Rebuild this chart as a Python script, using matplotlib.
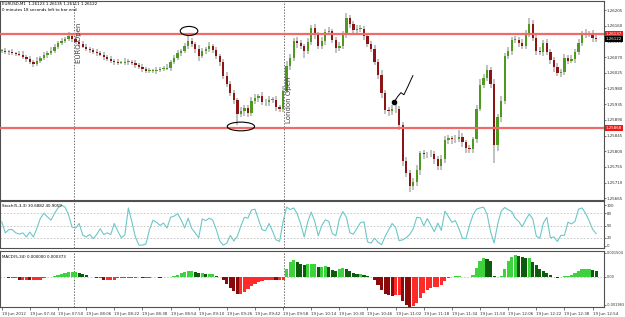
import numpy as np
import matplotlib.pyplot as plt
import matplotlib.transforms as mtransforms
from matplotlib.patches import Ellipse

# EURUSD, 2-minute bars starting 19 Jun 07:18 (minutes since 07:18 on the x axis)
bar_minutes = 2

close = [1.26088, 1.26085, 1.26085, 1.26082, 1.26080, 1.26077, 1.26071, 1.26065, 1.26057, 1.26051,
         1.26060, 1.26068, 1.26077, 1.26082, 1.26088, 1.26100, 1.26111, 1.26117, 1.26122, 1.26131,
         1.26122, 1.26114, 1.26108, 1.26100, 1.26094, 1.26091, 1.26085, 1.26082, 1.26077, 1.26071,
         1.26065, 1.26060, 1.26057, 1.26054, 1.26054, 1.26057, 1.26057, 1.26054, 1.26048, 1.26042,
         1.26037, 1.26031, 1.26031, 1.26031, 1.26034, 1.26037, 1.26037, 1.26040, 1.26057, 1.26068,
         1.26082, 1.26088, 1.26102, 1.26117, 1.26108, 1.26094, 1.26074, 1.26088, 1.26094, 1.26102,
         1.26091, 1.26074, 1.26057, 1.26017, 1.25994, 1.25968, 1.25948, 1.25908, 1.25914, 1.25925,
         1.25911, 1.25945, 1.25954, 1.25957, 1.25942, 1.25940, 1.25948, 1.25948, 1.25928, 1.25922,
         1.25974, 1.26045, 1.26068, 1.26117, 1.26111, 1.26102, 1.26088, 1.26114, 1.26154, 1.26134,
         1.26102, 1.26117, 1.26142, 1.26145, 1.26120, 1.26097, 1.26102, 1.26134, 1.26182, 1.26165,
         1.26148, 1.26151, 1.26151, 1.26131, 1.26108, 1.26094, 1.26057, 1.26020, 1.25968, 1.25917,
         1.25914, 1.25920, 1.25922, 1.25874, 1.25771, 1.25737, 1.25700, 1.25711, 1.25745, 1.25794,
         1.25791, 1.25791, 1.25791, 1.25777, 1.25757, 1.25777, 1.25831, 1.25837, 1.25834, 1.25834,
         1.25842, 1.25825, 1.25808, 1.25805, 1.25834, 1.25922, 1.25991, 1.26011, 1.26034, 1.25994,
         1.25817, 1.25897, 1.25945, 1.26074, 1.26088, 1.26120, 1.26120, 1.26111, 1.26102, 1.26137,
         1.26165, 1.26125, 1.26088, 1.26085, 1.26111, 1.26085, 1.26062, 1.26042, 1.26025, 1.26028,
         1.26068, 1.26060, 1.26065, 1.26085, 1.26111, 1.26134, 1.26137, 1.26137, 1.26125, 1.26122]

# wick lengths beyond the body, in points (1e-5)
up_wick = [6, 8, 5, 9, 4, 7, 10, 5, 8, 6, 9, 5, 7, 6, 10, 8, 5, 9, 7, 12,
           6, 8, 5, 7, 9, 4, 6, 8, 5, 7, 6, 9, 5, 8, 6, 10, 7, 5, 8, 6,
           7, 5, 9, 6, 8, 5, 7, 10, 6, 9, 8, 6, 9, 20, 7, 6, 10, 8, 5, 12,
           7, 9, 6, 8, 10, 7, 9, 6, 12, 8, 7, 10, 9, 6, 12, 8, 9, 7, 10, 6,
           12, 15, 10, 9, 12, 8, 7, 10, 8, 11, 9, 12, 8, 10, 6, 9, 12, 10, 14, 9,
           8, 11, 10, 7, 9, 8, 10, 8, 12, 9, 10, 12, 15, 8, 10, 12, 9, 11, 14, 8,
           10, 7, 12, 9, 8, 11, 14, 10, 8, 12, 20, 9, 8, 10, 7, 12, 15, 10, 12, 9,
           14, 10, 12, 9, 11, 8, 10, 9, 12, 10, 17, 12, 9, 11, 8, 10, 9, 7, 10, 9,
           11, 8, 10, 9, 12, 10, 14, 9, 12, 8]
dn_wick = [7, 5, 9, 6, 8, 5, 7, 9, 6, 10, 6, 8, 5, 9, 7, 6, 8, 5, 7, 6,
           8, 6, 9, 5, 7, 10, 6, 8, 5, 9, 7, 6, 9, 8, 5, 7, 10, 6, 8, 5,
           9, 6, 8, 7, 10, 6, 8, 5, 9, 7, 6, 9, 7, 8, 10, 12, 14, 7, 9, 8,
           10, 8, 12, 9, 11, 10, 12, 34, 10, 12, 14, 9, 10, 12, 8, 11, 9, 10, 12, 9,
           10, 8, 12, 9, 14, 10, 20, 9, 8, 12, 10, 9, 12, 8, 10, 14, 9, 10, 8, 12,
           9, 10, 8, 12, 10, 9, 11, 12, 14, 10, 12, 9, 10, 12, 14, 10, 17, 12, 10, 14,
           12, 10, 9, 14, 12, 11, 10, 9, 12, 10, 9, 12, 14, 10, 9, 11, 8, 10, 9, 12,
           52, 15, 12, 10, 9, 11, 10, 12, 9, 10, 8, 10, 12, 9, 11, 10, 12, 14, 10, 12,
           9, 10, 8, 11, 9, 10, 8, 10, 12, 9]

stoch = [59, 32, 40, 40, 32, 29, 32, 22, 34, 22, 44, 68, 80, 71, 63, 80, 93, 100, 95, 76,
         46, 44, 55, 27, 22, 28, 18, 28, 42, 28, 32, 28, 55, 36, 20, 27, 93, 59, 22, 2,
         2, 5, 40, 63, 58, 50, 56, 44, 70, 73, 79, 64, 44, 68, 43, 32, 20, 66, 62, 68,
         63, 40, 12, 2, 7, 26, 12, 24, 49, 70, 68, 88, 90, 65, 40, 37, 55, 36, 15, 11,
         60, 95, 89, 93, 79, 54, 22, 59, 83, 60, 25, 50, 64, 60, 30, 25, 66, 84, 70, 32,
         29, 43, 57, 59, 10, 7, 19, 9, 3, 23, 39, 55, 45, 13, 15, 20, 28, 42, 70, 69,
         49, 67, 51, 35, 56, 38, 85, 72, 58, 62, 42, 19, 18, 50, 76, 90, 93, 95, 78, 35,
         7, 53, 85, 94, 89, 84, 68, 60, 47, 64, 78, 66, 24, 19, 56, 70, 20, 22, 11, 26,
         26, 58, 54, 60, 90, 93, 80, 62, 41, 30]

# MACD histogram in 1e-5
macd_pts = [-6, -6, -12, -12, -12, -19, -19, -19, -25, -25, -25, -19, -12, -6, 0, 6, 12, 19, 25, 31,
            31, 31, 25, 19, 12, 0, -6, -12, -12, -19, -19, -19, -19, -12, -12, -12, -12, -12, -12, -6,
            -12, -12, -12, -6, -6, -12, -6, -6, 0, 6, 12, 25, 31, 38, 38, 31, 25, 25, 19, 19,
            19, 6, 0, -25, -50, -75, -94, -112, -112, -100, -81, -62, -50, -38, -31, -25, -19, -19, -25, -25,
            -19, 50, 94, 106, 94, 81, 75, 81, 81, 81, 62, 62, 69, 62, 44, 38, 50, 56, 50, 38,
            25, 19, 19, 12, 6, -6, -25, -56, -88, -112, -119, -125, -119, -119, -156, -181, -194, -188, -169, -138,
            -106, -88, -75, -69, -69, -56, -31, -12, 0, 6, 6, 0, -6, -6, 12, 56, 100, 119, 112, 100,
            6, -6, 6, 50, 100, 125, 138, 131, 125, 119, 119, 94, 75, 50, 38, 25, 12, -6, -12, 0,
            6, 6, 12, 25, 38, 50, 50, 50, 44, 38]

levels = [1.26137, 1.25868]
last_price = 1.26122
price_ticks = [1.25665, 1.25710, 1.25755, 1.25800, 1.25845, 1.25890, 1.25935,
               1.25980, 1.26025, 1.26070, 1.26115, 1.26160, 1.26205]
time_labels = ["19 Jun 2012", "19 Jun 07:34", "19 Jun 07:50", "19 Jun 08:06", "19 Jun 08:22",
               "19 Jun 08:38", "19 Jun 08:54", "19 Jun 09:10", "19 Jun 09:26", "19 Jun 09:42",
               "19 Jun 09:58", "19 Jun 10:14", "19 Jun 10:30", "19 Jun 10:46", "19 Jun 11:02",
               "19 Jun 11:18", "19 Jun 11:34", "19 Jun 11:50", "19 Jun 12:06", "19 Jun 12:22",
               "19 Jun 12:38", "19 Jun 12:54"]
sessions = [("EURO Open", 41), ("London Open", 160.5)]

close = np.array(close)
opens = np.r_[close[:1], close[:-1]]
highs = np.maximum(opens, close) + np.array(up_wick) * 1e-5
lows = np.minimum(opens, close) - np.array(dn_wick) * 1e-5
macd_hist = np.array(macd_pts) * 1e-5
x = np.arange(len(close)) * bar_minutes

W, H = 625, 317
fig = plt.figure(figsize=(W / 100, H / 100), dpi=100, facecolor='white')
ax_main = fig.add_axes([0, 1 - 200 / H, 604 / W, 199 / H])
ax_sto = fig.add_axes([0, 1 - 248 / H, 604 / W, 47 / H])
ax_macd = fig.add_axes([0, 1 - 307 / H, 604 / W, 56 / H])

fs = 2.9
for ax in (ax_main, ax_sto, ax_macd):
    ax.set_xlim(-1, 342.5)
    ax.yaxis.tick_right()
    ax.tick_params(axis='y', length=1.5, width=0.5, pad=0.6, labelsize=fs,
                   color='#404040', labelcolor='#303030')
    for s in ax.spines.values():
        s.set_color('#505050')
        s.set_linewidth(0.8)
    for name, m in sessions:
        ax.axvline(m, color='#707070', ls=(0, (1.5, 1.5)), lw=0.7, zorder=0)

# --- candles
bull = close >= opens
ax_main.vlines(x, lows, highs, color='#b0b0b0', lw=1.1, zorder=1)
ax_main.bar(x, np.maximum(np.abs(close - opens), 1.5e-5), bottom=np.minimum(opens, close),
            width=1.3, color=np.where(bull, '#4c9a1e', '#8c1414'), zorder=2)
ax_main.set_ylim(1.25660, 1.26231)
ax_main.set_xticks([])
ax_main.set_yticks(price_ticks)
ax_main.set_yticklabels(['%.5f' % p for p in price_ticks])

for lv in levels:
    ax_main.axhline(lv, color='#f06a6a', lw=1.6, zorder=3)
tr = mtransforms.blended_transform_factory(ax_main.transAxes, ax_main.transData)
for lv in levels:
    ax_main.text(1.003, lv, '%.5f' % lv, transform=tr, fontsize=fs, color='white', va='center',
                 ha='left', clip_on=False, zorder=5,
                 bbox=dict(boxstyle='square,pad=0.25', fc='#f01818', ec='none'))
ax_main.text(1.003, last_price, '%.5f' % last_price, transform=tr, fontsize=fs, color='white',
             va='center', ha='left', clip_on=False, zorder=5,
             bbox=dict(boxstyle='square,pad=0.25', fc='black', ec='none'))

ax_main.text(42.3, 1.26054, "EURO Open", rotation=90, fontsize=5, color='#404040', va='bottom', ha='left')
ax_main.text(161.8, 1.25880, "London Open", rotation=90, fontsize=5, color='#404040', va='bottom', ha='left')

# hand drawn marks
ax_main.add_patch(Ellipse((106.5, 1.26145), 10, 0.00026, fill=False, ec='black', lw=0.8, zorder=4))
ax_main.add_patch(Ellipse((136, 1.25871), 15.5, 0.00025, angle=0, fill=False, ec='black', lw=0.8, zorder=4))
ax_main.plot([223, 225.2, 227, 228.7, 230.9, 233.8],
             [1.25940, 1.25957, 1.25968, 1.25962, 1.25985, 1.26017], color='black', lw=0.7, zorder=4)
ax_main.plot([223], [1.25942], 'o', color='black', ms=3, zorder=4)

fig.text(2 / W, 1 - 4 / H, "EURUSD,M1  1.26123 1.26135 1.26111 1.26122", fontsize=fs, va='center')
fig.text(2 / W, 1 - 10 / H, "0 minutes 18 seconds left to bar end", fontsize=fs, va='center')

# --- stochastic
ax_sto.plot(x, stoch, color='#6cc8c8', lw=0.8)
for lv in (20, 50, 80):
    ax_sto.axhline(lv, color='#c0c0c0', ls=(0, (2, 2)), lw=0.6, zorder=0)
ax_sto.set_ylim(-5, 110)
ax_sto.set_xticks([])
ax_sto.set_yticks([0, 20, 50, 80, 100])
ax_sto.text(0.004, 0.93, "Stoch(5,3,3) 30.6882 40.9059", transform=ax_sto.transAxes,
            fontsize=fs, va='top')

# --- MACD histogram
prev = np.r_[macd_hist[:1], macd_hist[:-1]]
up = macd_hist >= prev
mcol = np.where(macd_hist >= 0, np.where(up, '#3ed23e', '#0c5c0c'),
                np.where(up, '#ff2a2a', '#8a0a0a'))
ax_macd.bar(x, macd_hist, width=1.8, color=mcol, zorder=2)
ax_macd.axhline(0, color='#c0c0c0', ls=(0, (2, 2)), lw=0.6, zorder=0)
ax_macd.set_ylim(-0.00194, 0.001625)
ax_macd.set_yticks([-0.00181, 0, 0.00150])
ax_macd.set_yticklabels(['-0.001983', '0.00', '0.001504'])
ax_macd.tick_params(axis='y', labelsize=2.5)
ax_macd.text(0.004, 0.93, "MACD(5,34) 0.000000 0.000373", transform=ax_macd.transAxes,
             fontsize=fs, va='top')
ax_macd.set_xticks(np.arange(len(time_labels)) * 16)
ax_macd.set_xticklabels(time_labels, ha='left')
ax_macd.tick_params(axis='x', length=2, width=0.5, pad=1.5, labelsize=fs,
                    color='#404040', labelcolor='#303030')

fig.savefig('out.png', dpi=100, facecolor='white')
